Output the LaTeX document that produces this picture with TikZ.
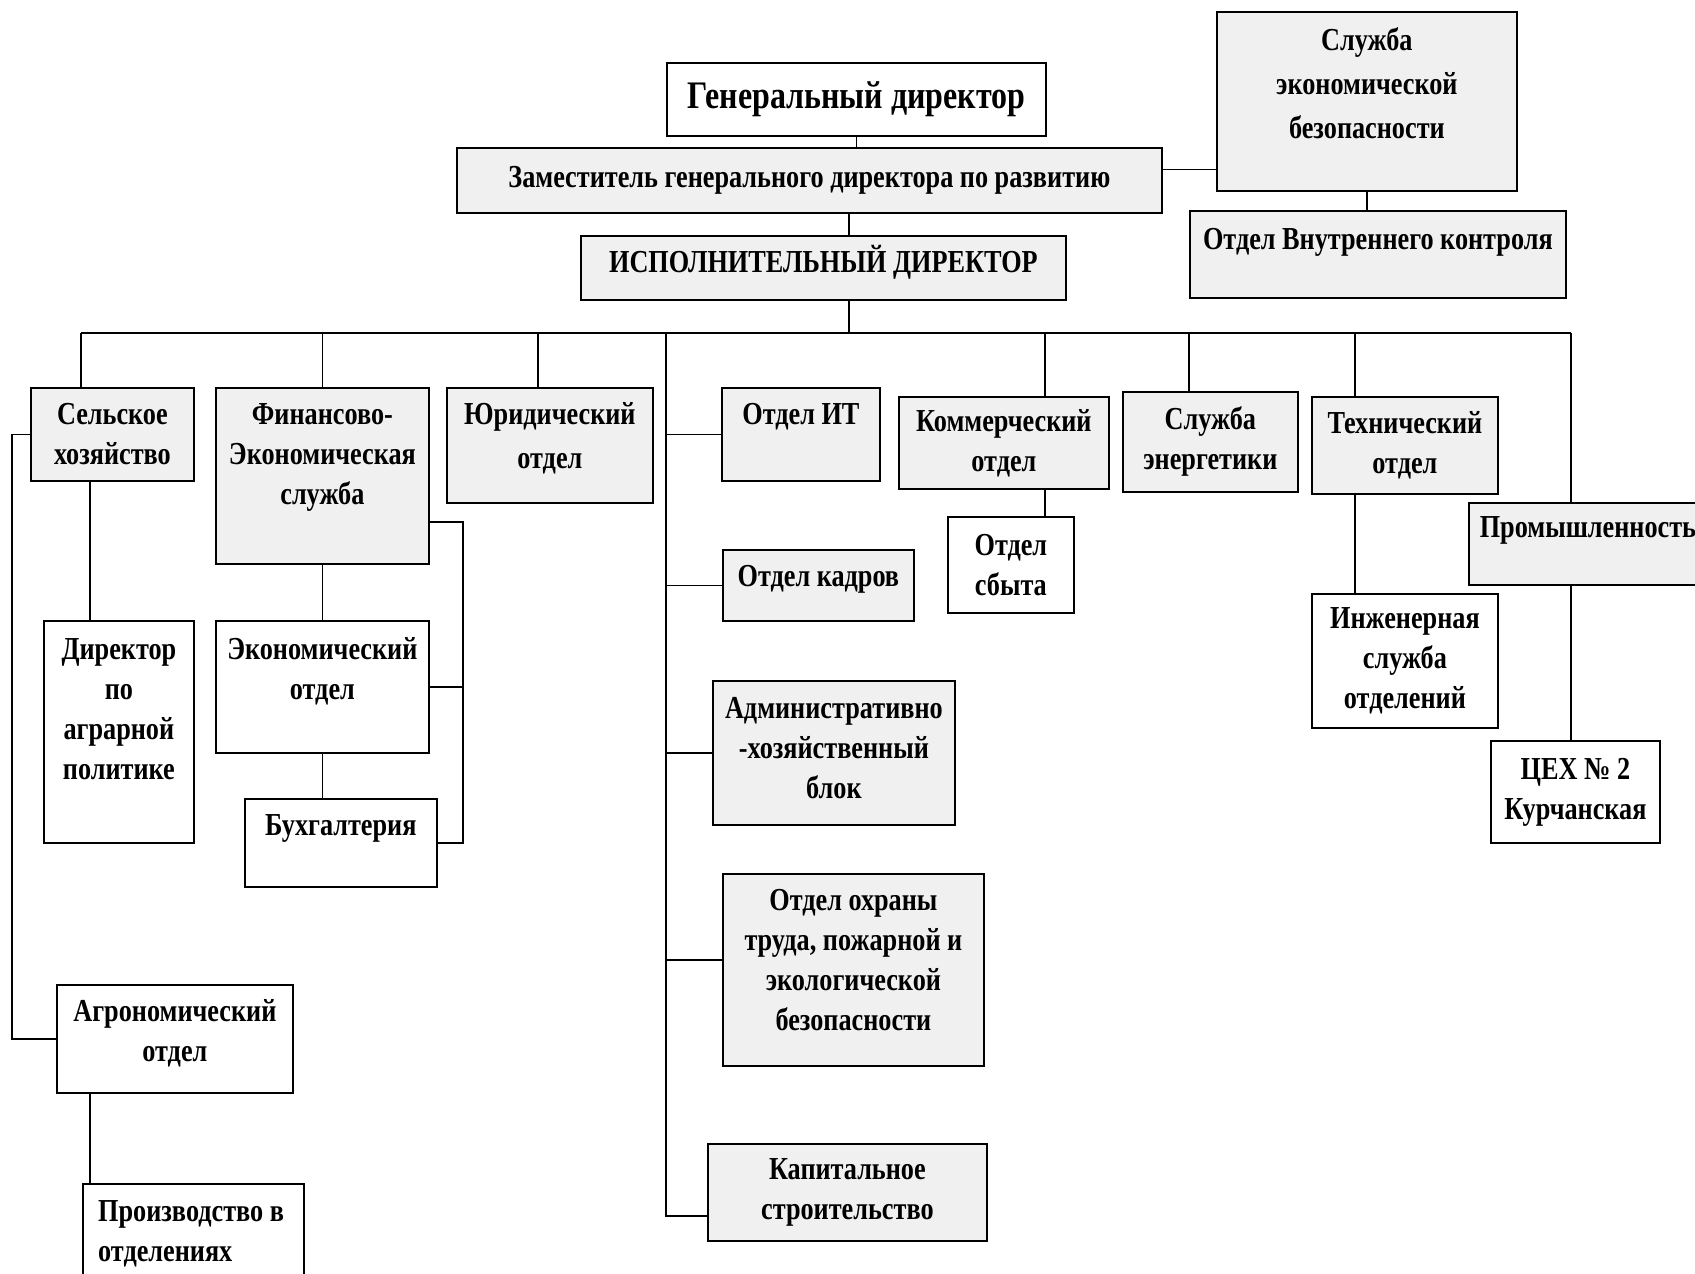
\documentclass[tikz,border=0pt]{standalone}
\usepackage{fontspec}
\setmainfont[FakeStretch=0.82]{Liberation Serif}

\begin{document}
\begin{tikzpicture}
  [x=1pt, y=-1pt,
   every node/.style={font=\bfseries\fontsize{32}{40}\selectfont, align=center},
   box/.style={draw, line width=1.8pt, anchor=north west, inner sep=2pt},
   grey/.style={box, fill=black!6},
   toptext/.style={anchor=north, inner sep=0pt, yshift=-14pt},
   line/.style={line width=1.4pt}]
  \useasboundingbox (0,0) rectangle (1695,1274);

  % management
  \node[box, minimum width=379pt, minimum height=73pt, font=\bfseries\fontsize{39}{44}\selectfont] (gen) at (666,62) {Генеральный директор};
  \node[grey, minimum width=705pt, minimum height=65pt] (zam) at (456,147) {Заместитель генерального директора по развитию};
  \node[grey, minimum width=485pt, minimum height=64pt,
        label={[toptext, yshift=4pt]north:ИСПОЛНИТЕЛЬНЫЙ ДИРЕКТОР}] (isp) at (580,235) {};
  \node[grey, minimum width=300pt, minimum height=179pt,
        label={[toptext, yshift=-2pt, font=\bfseries\fontsize{32}{44}\selectfont]north:Служба\\экономической\\безопасности}] (seb) at (1216,11) {};
  \node[grey, minimum width=376pt, minimum height=87pt,
        label={[toptext, yshift=-4pt]north:Отдел Внутреннего контроля}] (ovk) at (1189,210) {};

  % first row
  \node[grey, minimum width=163pt, minimum height=93pt] (sx) at (30,387) {Сельское\\хозяйство};
  \node[grey, minimum width=213pt, minimum height=176pt,
        label={[toptext, yshift=-2pt]north:Финансово-\\Экономическая\\служба}] (fes) at (215,387) {};
  \node[grey, minimum width=206pt, minimum height=115pt,
        label={[toptext, yshift=-1pt, font=\bfseries\fontsize{32}{44}\selectfont]north:Юридический\\отдел}] (yur) at (446,387) {};
  \node[grey, minimum width=158pt, minimum height=93pt,
        label={[toptext, yshift=-2pt]north:Отдел ИТ}] (it) at (721,387) {};
  \node[grey, minimum width=210pt, minimum height=92pt] (kom) at (898,396) {Коммерческий\\отдел};
  \node[grey, minimum width=175pt, minimum height=100pt] (energ) at (1122,391) {Служба\\энергетики};
  \node[grey, minimum width=186pt, minimum height=97pt] (teh) at (1311,396) {Технический\\отдел};
  \node[grey, minimum width=238pt, minimum height=82pt,
        label={[toptext]north:Промышленность}] (prom) at (1468,502) {};

  % lower boxes
  \node[box, minimum width=150pt, minimum height=222pt,
        label={[toptext, yshift=-4pt]north:Директор\\по\\аграрной\\политике}] (dap) at (43,620) {};
  \node[box, minimum width=213pt, minimum height=132pt,
        label={[toptext, yshift=-3pt]north:Экономический\\отдел}] (eko) at (215,620) {};
  \node[box, minimum width=192pt, minimum height=88pt,
        label={[toptext, yshift=-2pt]north:Бухгалтерия}] (buh) at (244,798) {};
  \node[box, minimum width=236pt, minimum height=108pt,
        label={[toptext, yshift=-1pt]north:Агрономический\\отдел}] (agro) at (56,984) {};
  \node[box, minimum width=221pt, minimum height=110pt,
        label={[anchor=north west, align=left, inner sep=0pt, xshift=16pt, yshift=-17pt]north west:Производство в\\отделениях}] (proizv) at (82,1183) {};
  \node[grey, minimum width=191pt, minimum height=71pt,
        label={[toptext, yshift=-2pt]north:Отдел кадров}] (kadr) at (722,549) {};
  \node[grey, minimum width=242pt, minimum height=144pt,
        label={[toptext, yshift=-3pt]north:Административно\\-хозяйственный\\блок}] (adm) at (712,680) {};
  \node[grey, minimum width=261pt, minimum height=192pt,
        label={[toptext, yshift=-2pt]north:Отдел охраны\\труда, пожарной и\\экологической\\безопасности}] (ohr) at (722,873) {};
  \node[grey, minimum width=279pt, minimum height=97pt] (kap) at (707,1143) {Капитальное\\строительство};
  \node[box, minimum width=126pt, minimum height=96pt] (sbyt) at (947,516) {Отдел\\сбыта};
  \node[box, minimum width=186pt, minimum height=134pt] (inzh) at (1311,593) {Инженерная\\служба\\отделений};
  \node[box, minimum width=169pt, minimum height=102pt] (ceh) at (1490,740) {ЦЕХ № 2\\Курчанская};

  % bus and drop points
  \coordinate (spine) at (849,333);
  \coordinate (busL) at (81,333);
  \coordinate (busR) at (1571,333);
  \coordinate (d-yur) at (538,333);
  \coordinate (trunk) at (666,333);
  \coordinate (d-kom) at (1045,333);
  \coordinate (d-energ) at (1189,333);
  \coordinate (d-teh) at (1355,333);
  \coordinate (trunkend) at (666,1216);
  \coordinate (a-x) at (90,0);
  \coordinate (brk) at (463,0);

  % connectors
  \draw[line] (gen.south) -- (gen.south |- zam.north);
  \draw[line] (spine |- zam.south) -- (spine |- isp.north);
  \draw[line] (spine |- isp.south) -- (spine);
  \draw[line] ([yshift=11pt]zam.east) -- ++(55,0);
  \draw[line] (seb.south) -- (seb.south |- ovk.north);
  \draw[line] (busL) -- (busR);

  \draw[line] (busL) -- (busL |- sx.north);
  \draw[line] (fes.north) -- (fes.north |- busL);
  \draw[line] (d-yur) -- (d-yur |- yur.north);
  \draw[line] (d-kom) -- (d-kom |- kom.north);
  \draw[line] (d-energ) -- (d-energ |- energ.north);
  \draw[line] (d-teh) -- (d-teh |- teh.north);
  \draw[line] (busR) -- (busR |- prom.north);

  \draw[line] (trunk) -- (trunkend) -- (trunkend -| kap.west);
  \draw[line] (trunk |- it.west) -- (it.west);
  \draw[line] (trunk |- kadr.west) -- (kadr.west);
  \draw[line] (trunk |- adm.west) -- (adm.west);
  \draw[line] ([yshift=10pt]trunk |- ohr.west) -- ([yshift=10pt]ohr.west);

  \draw[line] (d-kom |- kom.south) -- (d-kom |- sbyt.north);
  \draw[line] (d-teh |- teh.south) -- (d-teh |- inzh.north);
  \draw[line] (busR |- prom.south) -- (busR |- ceh.north);

  \draw[line] (a-x |- sx.south) -- (a-x |- dap.north);
  \draw[line] (a-x |- agro.south) -- (a-x |- proizv.north);
  \draw[line] (sx.west) -- ++(-18,0) |- (agro.west);

  \draw[line] (fes.south) -- (eko.north);
  \draw[line] (eko.south) -- (eko.south |- buh.north);
  \draw[line] ([yshift=-46pt]fes.east) -| (brk |- buh.east) -- (buh.east);
  \draw[line] (eko.east) -- (brk |- eko.east);
\end{tikzpicture}
\end{document}
